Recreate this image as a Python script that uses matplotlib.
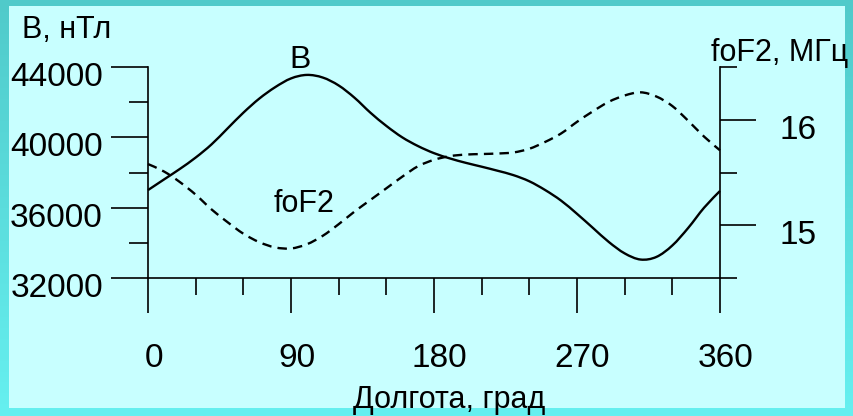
import matplotlib
matplotlib.use("Agg")
import matplotlib.pyplot as plt
import matplotlib.transforms as mtransforms
from matplotlib.patches import Rectangle, PathPatch
from matplotlib.path import Path
from matplotlib.ticker import MultipleLocator, FixedLocator
import numpy as np

plt.rcParams['font.family'] = ['Liberation Sans', 'DejaVu Sans']

# Долгота, град
lon = [0, 10, 20, 30, 40, 50, 60, 70, 80, 90, 100, 110, 120, 130, 140, 150, 160, 170, 180,
       190, 200, 210, 220, 230, 240, 250, 260, 270, 280, 290, 300, 310, 320, 330, 340, 350, 360]
# B, нТл
b_nt = [37000, 37600, 38200, 38850, 39600, 40500, 41400, 42200, 42850, 43350, 43550, 43400,
        42950, 42250, 41400, 40650, 40000, 39500, 39100, 38800, 38550, 38330, 38100, 37850,
        37500, 37000, 36400, 35650, 34850, 34050, 33400, 33050, 33200, 33850, 34850, 36000, 36950]
# foF2, МГц
fof2 = [15.58, 15.51, 15.41, 15.29, 15.15, 15.03, 14.92, 14.84, 14.79, 14.78, 14.82, 14.90,
        15.01, 15.13, 15.24, 15.35, 15.46, 15.56, 15.62, 15.655, 15.67, 15.675, 15.68, 15.69,
        15.725, 15.79, 15.87, 15.98, 16.08, 16.17, 16.23, 16.26, 16.22, 16.13, 15.99, 15.84, 15.71]

x_ticks = [0, 90, 180, 270, 360]
b_ticks = [32000, 36000, 40000, 44000]
f_ticks = [15, 16]


def smooth_path(xs, ys):
    # сглаженная линия (Catmull-Rom в виде кривых Безье) через заданные точки
    p = np.column_stack([xs, ys]).astype(float)
    ext = np.vstack([p[0], p, p[-1]])
    verts = [p[0]]
    codes = [Path.MOVETO]
    for i in range(1, len(ext) - 2):
        c1 = ext[i] + (ext[i + 1] - ext[i - 1]) / 6
        c2 = ext[i + 1] - (ext[i + 2] - ext[i]) / 6
        verts += [c1, c2, ext[i + 1]]
        codes += [Path.CURVE4] * 3
    return Path(verts, codes)


W, H = 854, 416
fig = plt.figure(figsize=(W / 100, H / 100), dpi=100)

# рамка с градиентом и светлый фон
bg = fig.add_axes([0, 0, 1, 1])
bg.set_axis_off()
grad = np.linspace(0, 1, 256).reshape(-1, 1)
top_c = np.array([80, 202, 202]) / 255
bot_c = np.array([102, 240, 240]) / 255
img = top_c[None, None, :] * (1 - grad[:, :, None]) + bot_c[None, None, :] * grad[:, :, None]
bg.imshow(img, aspect='auto', extent=[0, 1, 0, 1])
bg.set_xlim(0, 1)
bg.set_ylim(0, 1)
bg.add_patch(Rectangle((9 / W, (H - 408) / H), (845 - 9) / W, (408 - 6) / H,
                       facecolor='#c8ffff', edgecolor='none', zorder=3))

x0, x1 = 148, 720
y0, y1 = 67, 278
ax = fig.add_axes([x0 / W, (H - y1) / H, (x1 - x0) / W, (y1 - y0) / H])
ax.patch.set_visible(False)
ax2 = ax.twinx()
ax2.patch.set_visible(False)

lw = 1.7
ax.add_patch(PathPatch(smooth_path(lon, b_nt), facecolor='none', edgecolor='black',
                       lw=lw, clip_on=False))
ax2.add_patch(PathPatch(smooth_path(lon, fof2), facecolor='none', edgecolor='black',
                        lw=lw, linestyle=(0, (4.0, 2.6)), clip_on=False))

ax.set_xlim(0, 360)
ax.set_ylim(32000, 44000)
ax2.set_ylim(14.5, 16.5)

for s in ['top', 'right']:
    ax.spines[s].set_visible(False)
for s in ['top', 'left', 'bottom']:
    ax2.spines[s].set_visible(False)
for a in (ax, ax2):
    for s in a.spines.values():
        s.set_linewidth(1.2)

ax.xaxis.set_major_locator(FixedLocator(x_ticks))
ax.xaxis.set_minor_locator(MultipleLocator(30))
ax.yaxis.set_major_locator(FixedLocator(b_ticks))
ax.yaxis.set_minor_locator(MultipleLocator(2000))
ax2.yaxis.set_major_locator(FixedLocator(f_ticks))
ax2.yaxis.set_minor_locator(FixedLocator([14.5, 15.5, 16.5]))

ax.tick_params(axis='x', which='major', direction='out', length=25, width=1.2,
               labelsize=24, pad=22)
ax.tick_params(axis='x', which='minor', direction='out', length=12.5, width=1.2)
ax.tick_params(axis='y', which='major', direction='out', length=26.5, width=1.2,
               labelsize=24, pad=6)
ax.tick_params(axis='y', which='minor', direction='out', length=13.5, width=1.2)
ax2.tick_params(axis='y', which='major', direction='out', length=26, width=1.2,
                labelsize=24, pad=17)
ax2.tick_params(axis='y', which='minor', direction='out', length=12.5, width=1.2)
ax.set_xticklabels([str(v) for v in x_ticks])
ax.set_yticklabels([str(v) for v in b_ticks])
ax2.set_yticklabels([str(v) for v in f_ticks])

# подписи делений: по y чуть ниже, по x чуть правее
shift_y = mtransforms.ScaledTranslation(0, -5 / 72, fig.dpi_scale_trans)
for lab in ax.get_yticklabels() + ax2.get_yticklabels():
    lab.set_transform(lab.get_transform() + shift_y)
shift_x = mtransforms.ScaledTranslation(4 / 72, 0, fig.dpi_scale_trans)
for lab in ax.get_xticklabels():
    lab.set_transform(lab.get_transform() + shift_x)

fig.text(22 / W, 1 - 30 / H, 'B, нТл', fontsize=22, ha='left', va='center')
fig.text(780 / W, 1 - 53 / H, 'foF2, МГц', fontsize=22, ha='center', va='center')
fig.text(449 / W, 1 - 408 / H, 'Долгота, град', fontsize=22, ha='center', va='baseline')

ax.text(96, 44400, 'B', fontsize=23, ha='center', va='center')
ax2.text(98, 15.2, 'foF2', fontsize=22, ha='center', va='center')

fig.savefig('out.png', dpi=100)
